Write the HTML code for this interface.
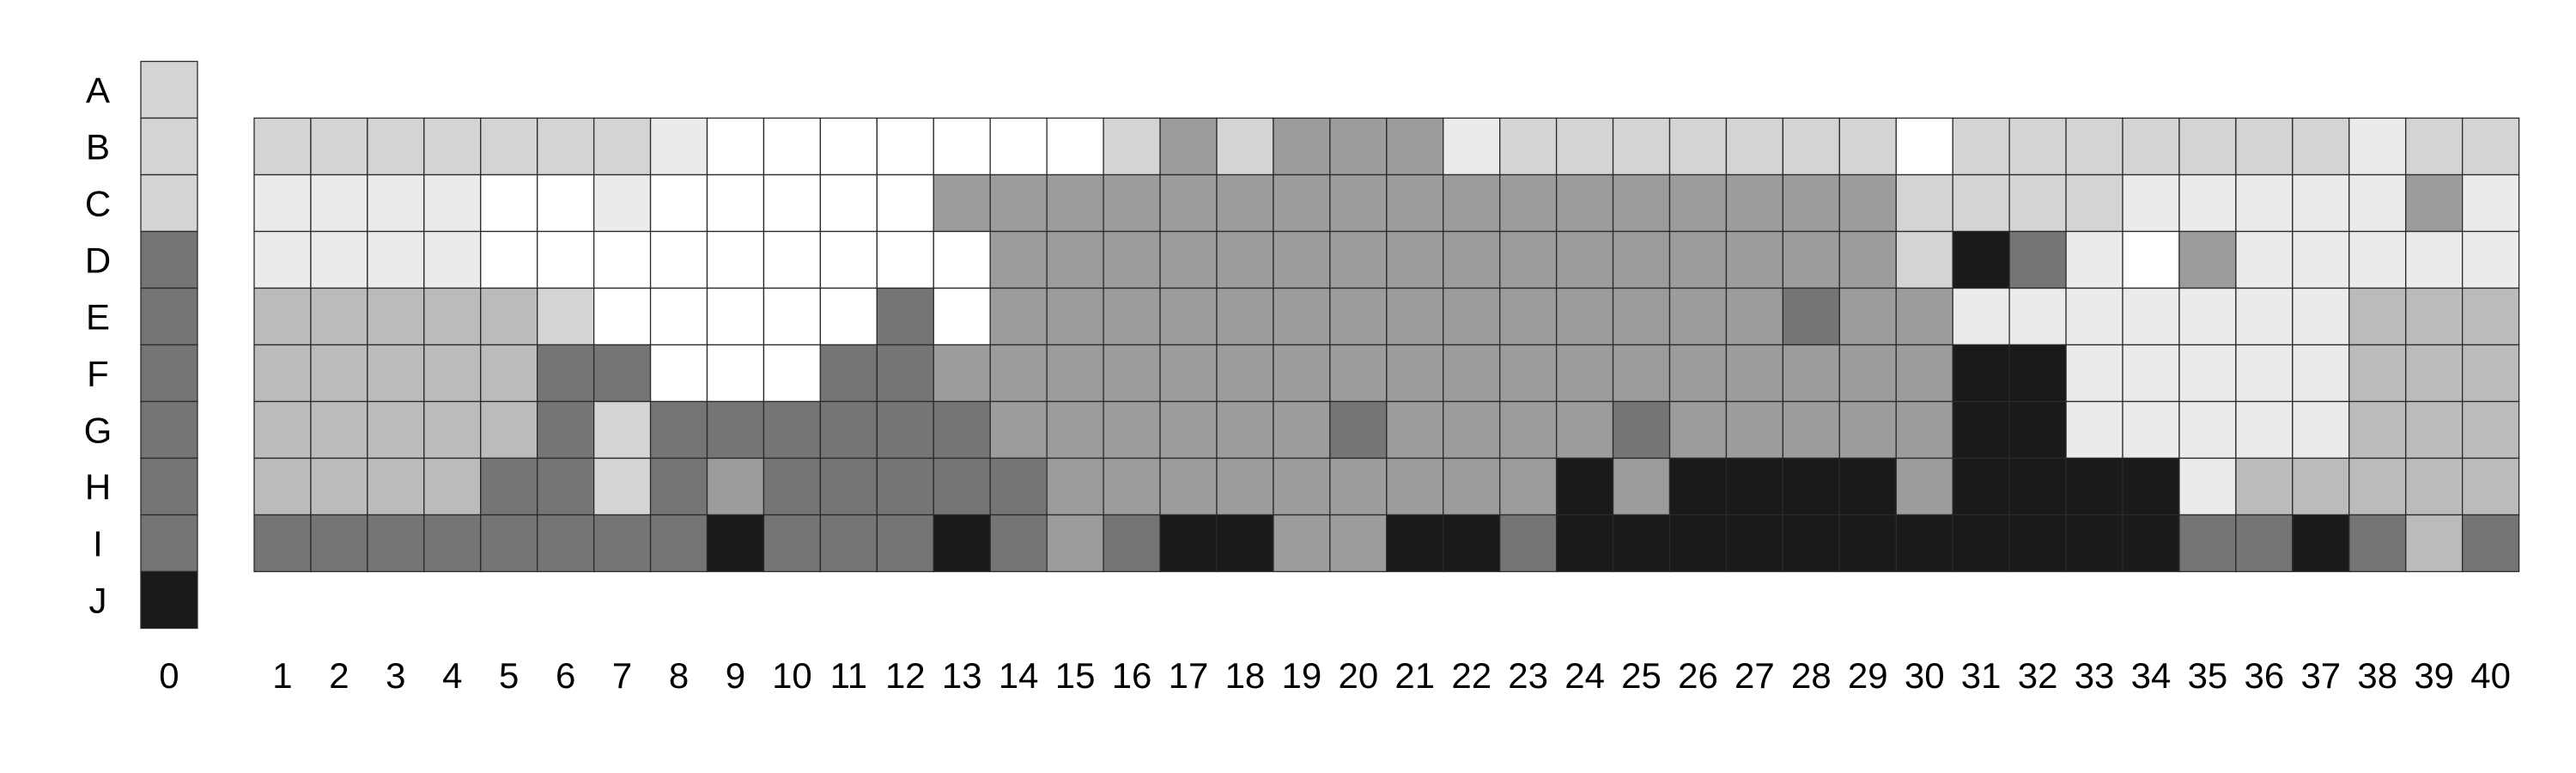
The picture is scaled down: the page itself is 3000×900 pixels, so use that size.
<!DOCTYPE html>
<html><head><meta charset="utf-8"><style>
html,body{margin:0;padding:0;background:#fff;}
svg{display:block;}
text{font-family:"Liberation Sans",sans-serif;font-size:42px;fill:#000;}
</style></head><body>
<svg id="chart" width="3000" height="900" viewBox="0 0 3000 900" xmlns="http://www.w3.org/2000/svg">
<g id="cells"></g>
<g id="labels"></g>
</svg>
<script>
const rowLabels = ["A","B","C","D","E","F","G","H","I","J"];
const colLabels = ["0","1","2","3","4","5","6","7","8","9","10","11","12","13","14","15","16","17","18","19","20","21","22","23","24","25","26","27","28","29","30","31","32","33","34","35","36","37","38","39","40"];
const col0Values = [2,2,2,5,5,5,5,5,5,6];
const rowB = [2,2,2,2,2,2,2,1,0,0,0,0,0,0,0,2,4,2,4,4,4,1,2,2,2,2,2,2,2,0,2,2,2,2,2,2,2,1,2,2];
const rowC = [1,1,1,1,0,0,1,0,0,0,0,0,4,4,4,4,4,4,4,4,4,4,4,4,4,4,4,4,4,2,2,2,2,1,1,1,1,1,4,1];
const rowD = [1,1,1,1,0,0,0,0,0,0,0,0,0,4,4,4,4,4,4,4,4,4,4,4,4,4,4,4,4,2,6,5,1,0,4,1,1,1,1,1];
const rowE = [3,3,3,3,3,2,0,0,0,0,0,5,0,4,4,4,4,4,4,4,4,4,4,4,4,4,4,5,4,4,1,1,1,1,1,1,1,3,3,3];
const rowF = [3,3,3,3,3,5,5,0,0,0,5,5,4,4,4,4,4,4,4,4,4,4,4,4,4,4,4,4,4,4,6,6,1,1,1,1,1,3,3,3];
const rowG = [3,3,3,3,3,5,2,5,5,5,5,5,5,4,4,4,4,4,4,5,4,4,4,4,5,4,4,4,4,4,6,6,1,1,1,1,1,3,3,3];
const rowH = [3,3,3,3,5,5,2,5,4,5,5,5,5,5,4,4,4,4,4,4,4,4,4,6,4,6,6,6,6,4,6,6,6,6,1,3,3,3,3,3];
const rowI = [5,5,5,5,5,5,5,5,6,5,5,5,6,5,4,5,6,6,4,4,6,6,5,6,6,6,6,6,6,6,6,6,6,6,5,5,6,5,3,5];
const mainRows = [rowB,rowC,rowD,rowE,rowF,rowG,rowH,rowI];
const palette = ["#ffffff","#ebebeb","#d4d4d4","#bbbbbb","#9c9c9c","#757575","#1a1a1a"];

const NS = "http://www.w3.org/2000/svg";
const top0 = 71.5, rowH_ = 66;
const col0X = 164, colW = 65.94, mainX = 296;
function yOf(r){ return top0 + r*rowH_; }
function xOf(c){ return c===0 ? col0X : mainX + (c-1)*colW; }
const cells = document.getElementById('cells');
const labels = document.getElementById('labels');

function rect(x,y,v,name){
  const r = document.createElementNS(NS,'rect');
  r.setAttribute('x',x); r.setAttribute('y',y);
  r.setAttribute('width',colW); r.setAttribute('height',rowH_);
  r.setAttribute('fill',palette[v]);
  r.setAttribute('stroke','#2a2a2a'); r.setAttribute('stroke-width','1.3');
  
  
  cells.appendChild(r);
}
col0Values.forEach((v,r)=>{ rect(xOf(0), yOf(r), v, 'cell-'+rowLabels[r]+'-0'); });
mainRows.forEach((row,ri)=>{
  row.forEach((v,ci)=>{ rect(xOf(ci+1), yOf(ri+1), v, 'cell-'+rowLabels[ri+1]+'-'+(ci+1)); });
});
function txt(x,y,s,name){
  const t = document.createElementNS(NS,'text');
  t.setAttribute('x',x); t.setAttribute('y',y);
  t.setAttribute('text-anchor','middle');
  t.textContent = s;
  
  
  labels.appendChild(t);
}
rowLabels.forEach((s,r)=>{ txt(114, yOf(r)+rowH_/2+15, s, 'row-label-'+s); });
colLabels.forEach((s,c)=>{ txt(xOf(c)+colW/2, 801, s, 'col-label-'+s); });
</script>
</body></html>
